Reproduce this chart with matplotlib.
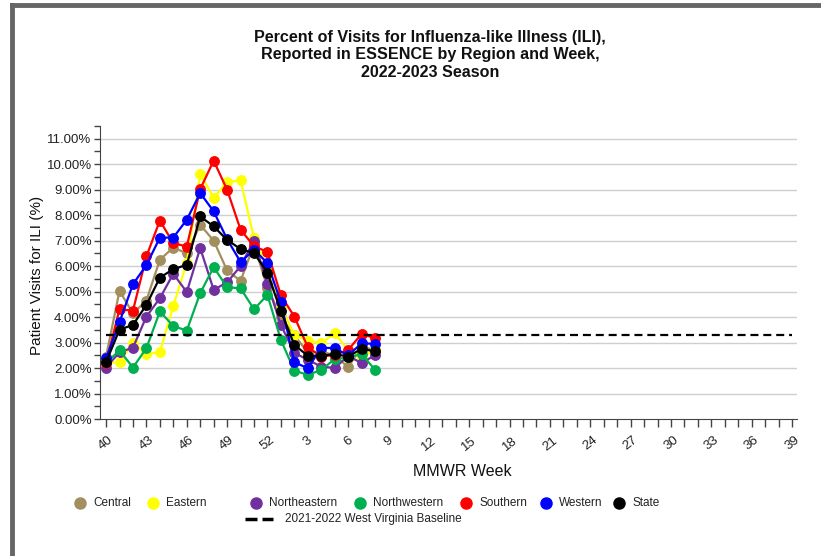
import matplotlib
matplotlib.use("Agg")
import matplotlib.pyplot as plt
from matplotlib.lines import Line2D
import numpy as np

plt.rcParams['font.family'] = ['Liberation Sans', 'DejaVu Sans']

week_labels = [str(w) for w in list(range(40, 53)) + list(range(1, 40))]

central      = [2.45, 5.03, 4.15, 4.65, 6.25, 6.73, 6.50, 7.62, 7.00, 5.83, 5.42, 6.85, 5.15, 4.00, 3.30, 2.60, 2.65, 2.50, 2.03, 2.85, 2.70]
eastern      = [2.19, 2.23, 3.00, 2.55, 2.62, 4.44, 6.14, 9.63, 8.67, 9.30, 9.37, 7.10, 5.90, 4.40, 3.30, 3.08, 2.97, 3.37, 2.70, 2.45, 2.70]
northeastern = [2.02, 2.62, 2.80, 4.02, 4.74, 5.70, 4.98, 6.71, 5.07, 5.36, 6.00, 7.00, 5.30, 3.69, 2.60, 2.32, 2.06, 2.00, 2.48, 2.19, 2.51]
northwestern = [2.20, 2.69, 2.02, 2.78, 4.22, 3.65, 3.47, 4.94, 5.96, 5.17, 5.13, 4.31, 4.87, 3.10, 1.90, 1.73, 1.93, 2.35, 2.42, 2.55, 1.93]
southern     = [2.20, 4.31, 4.25, 6.38, 7.79, 6.90, 6.77, 9.02, 10.14, 9.00, 7.43, 6.78, 6.56, 4.85, 4.02, 2.82, 2.45, 2.51, 2.71, 3.34, 3.17]
western      = [2.38, 3.80, 5.29, 6.04, 7.12, 7.12, 7.82, 8.87, 8.15, 7.06, 6.16, 6.64, 6.12, 4.58, 2.23, 1.99, 2.80, 2.78, 2.50, 2.97, 2.95]
state        = [2.23, 3.51, 3.69, 4.48, 5.55, 5.88, 6.05, 7.95, 7.56, 7.03, 6.67, 6.51, 5.75, 4.22, 2.91, 2.48, 2.48, 2.55, 2.45, 2.76, 2.65]
baseline = 3.30

series_names = ["Central", "Eastern", "Northeastern", "Northwestern", "Southern", "Western", "State"]
series_values = [central, eastern, northeastern, northwestern, southern, western, state]
series_colors = ["#A38F5E", "#FFFF00", "#7030A0", "#00B050", "#FF0000", "#0000FF", "#000000"]

fig = plt.figure(figsize=(8.21, 5.56), dpi=100)
W, H = 821, 556
ax = fig.add_axes([100 / W, 1 - 419 / H, 697 / W, (419 - 126) / H])

x_all = np.arange(len(week_labels))
for name, vals, col in zip(series_names, series_values, series_colors):
    xs = x_all[:len(vals)]
    ax.plot(xs, vals, color=col, lw=1.6, marker='o', ms=6.8, mec=col, mfc=col, zorder=3)

ax.plot([x_all[0], x_all[-1]], [baseline, baseline], color='black', lw=1.6, dashes=(3.6, 2.2), zorder=4)

ax.set_xlim(-0.45, len(week_labels) - 1 + 0.37)
ax.set_ylim(0, 11.5)
ax.set_yticks(np.arange(0, 11.01, 1))
ax.set_yticks(np.arange(0.5, 11.51, 1), minor=True)
ax.set_yticklabels([f"{v:.2f}%" for v in np.arange(0, 11.01, 1)], fontsize=9.5, color='#222222')
for v in np.arange(1, 11.01, 1):
    ax.axhline(v, color='#CFCFCF', lw=1.0, zorder=1)

ax.set_xticks(x_all)
ax.set_xticklabels([lab if i % 3 == 0 else "" for i, lab in enumerate(week_labels)],
                   rotation=38, fontsize=9.5, color='#222222', ha='center', va='top')
ax.tick_params(axis='x', which='major', length=6, width=1, color='#444444', pad=5)
ax.tick_params(axis='y', which='both', length=4.5, width=1, color='#444444', pad=1.5)

for s in ['top', 'right']:
    ax.spines[s].set_visible(False)
ax.spines['left'].set_color('#444444')
ax.spines['bottom'].set_color('#444444')

ax.set_ylabel("Patient Visits for ILI (%)", fontsize=11, color='#111111')
ax.yaxis.set_label_coords(-0.0805, 0.49)

fig.text(462 / W, 1 - 472 / H, "MMWR Week", ha='center', va='center', fontsize=11.5, color='#111111')

fig.text(430 / W, 1 - 55 / H,
         "Percent of Visits for Influenza-like Illness (ILI),\nReported in ESSENCE by Region and Week,\n2022-2023 Season",
         ha='center', va='center', fontsize=11.6, fontweight='bold', linespacing=1.2, color='#111111')

# legend (manual, in figure coords)
leg_y1 = 1 - 503 / H
leg_items_x = [80, 153, 256, 360, 466, 546, 619]
for name, col, mx in zip(series_names, series_colors, leg_items_x):
    fig.add_artist(Line2D([mx / W], [leg_y1], marker='o', ms=8, color=col, mec=col, lw=0))
    fig.text((mx + 13) / W, leg_y1, name, ha='left', va='center', fontsize=8.5, color='#222222')
leg_y2 = 1 - 519 / H
for x0, x1 in [(245, 257), (262, 273)]:
    fig.add_artist(Line2D([x0 / W, x1 / W], [leg_y2, leg_y2], color='black', lw=2.5, solid_capstyle='butt'))
fig.text(285 / W, leg_y2, "2021-2022 West Virginia Baseline", ha='left', va='center', fontsize=8.5, color='#222222')

# outer frame (top and left edges)
fig.add_artist(Line2D([12 / W, 1.0], [1 - 5 / H, 1 - 5 / H], color='#666666', lw=3.5))
fig.add_artist(Line2D([12 / W, 12 / W], [0, 1 - 5 / H], color='#666666', lw=3.5))

fig.savefig("out.png", dpi=100)
